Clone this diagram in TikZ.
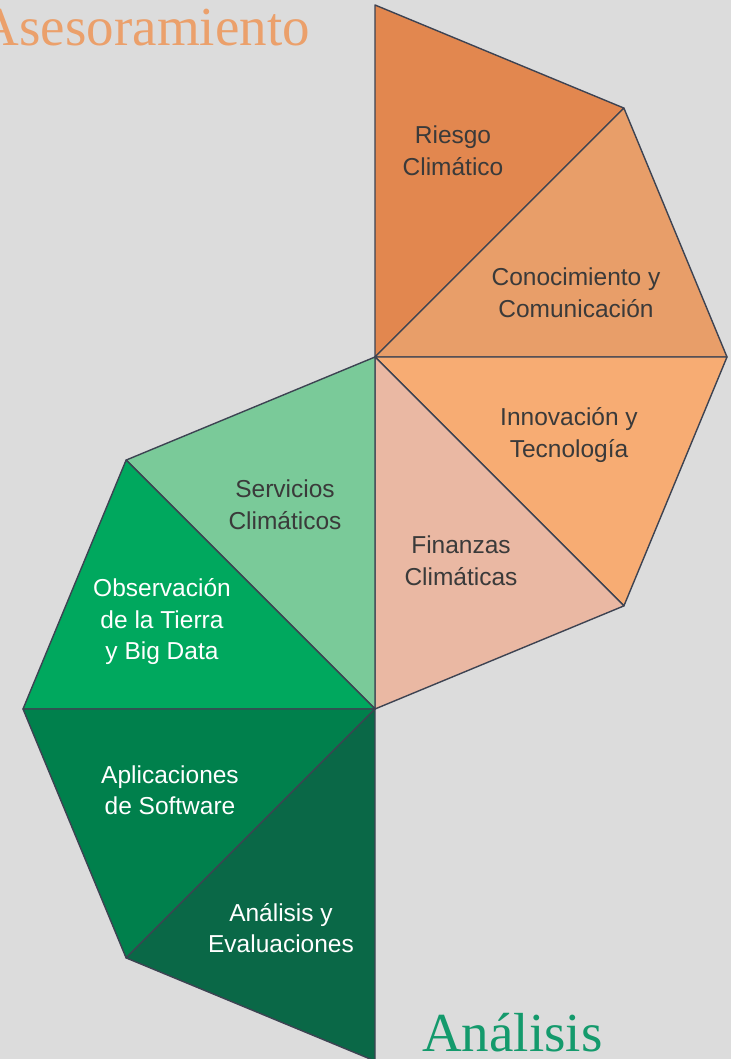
\documentclass[tikz,border=0pt]{standalone}
\usepackage{fontspec}
\setmainfont{Liberation Sans}
\newfontfamily\titlefont{Liberation Serif}
\usetikzlibrary{calc}
\definecolor{bgcol}{HTML}{DCDCDC}
\definecolor{edgecol}{HTML}{3D4352}
\definecolor{txtcol}{HTML}{3A3A3A}
\definecolor{riesgo}{HTML}{E2874F}
\definecolor{conoc}{HTML}{E89E69}
\definecolor{innov}{HTML}{F7AC73}
\definecolor{finanz}{HTML}{EAB8A3}
\definecolor{servic}{HTML}{7ACA99}
\definecolor{observ}{HTML}{00A85E}
\definecolor{aplic}{HTML}{00804C}
\definecolor{analis}{HTML}{0A6847}
\definecolor{asesorcol}{HTML}{EBA06B}
\definecolor{analiscol}{HTML}{149A6C}
\tikzset{
	sector/.style={
		draw=edgecol,
		line width=1.4pt,
		line join=round,
	},
	lbl/.style={
		align=center,
		text=txtcol,
		inner sep=0pt,
		font=\fontsize{24.5}{31.5}\selectfont,
	},
	lblw/.style={
		lbl,
		text=white,
	},
	heading/.style={
		inner sep=0pt,
		font=\titlefont\fontsize{55}{55}\selectfont,
	},
}

\begin{document}
\begin{tikzpicture}[x=1pt,y=1pt]
		\useasboundingbox (0,0) rectangle (731,1059);
		\clip (0,0) rectangle (731,1059);
		\fill[bgcol] (0,0) rectangle (731,1059);

		% centres of the two fans
		\coordinate (c1) at (375,702);
		\coordinate (c2) at (375,350);

		\coordinate (a0) at ($(c1)+(90:352)$);
		\coordinate (a1) at ($(c1)+(45:352)$);
		\coordinate (a2) at ($(c1)+(0:352)$);
		\coordinate (a3) at ($(c1)+(-45:352)$);
		\coordinate (b1) at ($(c2)+(135:352)$);
		\coordinate (b2) at ($(c2)+(180:352)$);
		\coordinate (b3) at ($(c2)+(225:352)$);
		\coordinate (b4) at ($(c2)+(270:352)$);

		\filldraw[sector, fill=riesgo] 	(c1) -- (a0) -- (a1) -- cycle;
		\filldraw[sector, fill=conoc] 	(c1) -- (a1) -- (a2) -- cycle;
		\filldraw[sector, fill=innov] 	(c1) -- (a2) -- (a3) -- cycle;
		\filldraw[sector, fill=finanz] 	(c1) -- (a3) -- (c2) -- cycle;
		\filldraw[sector, fill=servic] 	(c2) -- (c1) -- (b1) -- cycle;
		\filldraw[sector, fill=observ] 	(c2) -- (b1) -- (b2) -- cycle;
		\filldraw[sector, fill=aplic] 	(c2) -- (b2) -- (b3) -- cycle;
		\filldraw[sector, fill=analis] 	(c2) -- (b3) -- (b4) -- cycle;

		\node[lbl] 	(riesgo) at (453,908) {Riesgo\\Climático};
		\node[lbl] 	(conoc) at (576,766) {Conocimiento y\\Comunicación};
		\node[lbl] 	(innov) at (569,624) {Innovación y\\Tecnología};
		\node[lbl] 	(finanz) at (461,498) {Finanzas\\Climáticas};
		\node[lbl] 	(servic) at (285,554) {Servicios\\Climáticos};
		\node[lblw] (observ) at (162,437) {Observación\\de la Tierra\\y Big Data};
		\node[lblw] (aplic) at (170,269) {Aplicaciones\\de Software};
		\node[lblw] (analis) at (281,131) {Análisis y\\Evaluaciones};

		\node[heading, text=asesorcol, anchor=base east] (asesor) at (310,1013) {Asesoramiento};
		\node[heading, text=analiscol, anchor=base west] (analisis) at (422,7) {Análisis};

	\end{tikzpicture}
\end{document}
